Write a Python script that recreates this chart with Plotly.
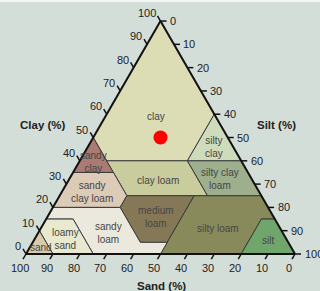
import math
import plotly.graph_objects as go

# ---- data: soil texture classes as (clay %, sand %, silt %) vertices ----
clay_poly = [(100, 0, 0), (50, 50, 0), (40, 50, 10), (40, 20, 40), (60, 0, 40)]
silty_clay_poly = [(60, 0, 40), (40, 20, 40), (40, 0, 60)]
sandy_clay_poly = [(50, 50, 0), (35, 50, 15), (35, 65, 0)]
clay_loam_poly = [(40, 50, 10), (40, 20, 40), (25, 20, 55), (25, 50, 25)]
silty_clay_loam_poly = [(40, 20, 40), (40, 0, 60), (25, 0, 75), (25, 20, 55)]
sandy_clay_loam_poly = [(35, 65, 0), (35, 50, 15), (25, 50, 25), (20, 55, 25), (20, 80, 0)]
medium_loam_poly = [(25, 50, 25), (25, 25, 50), (5, 45, 50), (5, 55, 40), (20, 55, 25)]
silty_loam_poly = [(25, 25, 50), (25, 0, 75), (15, 0, 85), (15, 5, 80), (0, 20, 80), (0, 50, 50)]
silt_poly = [(15, 5, 80), (15, 0, 85), (0, 0, 100), (0, 20, 80)]
sandy_loam_poly = [(20, 80, 0), (20, 55, 25), (5, 55, 40), (5, 45, 50), (0, 50, 50),
                   (0, 75, 25), (15, 75, 10), (15, 85, 0)]
loamy_sand_poly = [(15, 85, 0), (15, 75, 10), (0, 75, 25), (0, 90, 10), (10, 90, 0)]
sand_poly = [(10, 90, 0), (0, 100, 0), (0, 90, 10)]

region_polys = [clay_poly, silty_clay_poly, sandy_clay_poly, clay_loam_poly,
                silty_clay_loam_poly, sandy_clay_loam_poly, medium_loam_poly,
                silty_loam_poly, silt_poly, sandy_loam_poly, loamy_sand_poly, sand_poly]
region_colors = ["#dcdcb5", "#cfdcbb", "#a97b73", "#c9cc9c", "#9daf8d", "#dccbb7",
                 "#857857", "#898a5b", "#70a66b", "#ebe9dd", "#e9e9cf", "#d9cba9"]

label_text = ["clay", "silty<br>clay", "sandy<br>clay", "clay loam", "silty clay<br>loam",
              "sandy<br>clay loam", "medium<br>loam", "silty loam", "silt", "sandy<br>loam",
              "loamy<br>sand", "sand"]
label_clay = [59, 46, 39.5, 31.6, 32, 26.8, 15.7, 11, 6, 8.9, 6.3, 2.7]
label_sand = [22, 7, 55, 35.2, 11.7, 61.9, 44, 23.1, 7.1, 64.7, 82.3, 93.1]
label_silt = [19, 47, 5.5, 33.2, 56.3, 11.3, 40.3, 65.9, 86.9, 26.4, 11.4, 4.2]

point_clay = [50]
point_sand = [25]
point_silt = [25]

tick_values = [0, 10, 20, 30, 40, 50, 60, 70, 80, 90, 100]

# ---- layout constants (pixels) ----
W, H = 320, 291
TRI_L, TRI_R, TRI_BOTTOM = 26, 295, 254          # triangle base in pixels
PX = (TRI_R - TRI_L) / 100.0                      # pixels per percent along an edge
S3 = math.sqrt(3) / 2
TRI_TOP = TRI_BOTTOM - 100 * S3 * PX

BG = "#d4ded9"
FONT = "Liberation Sans, Arial, sans-serif"
INK = "#222222"
TICK_LEN = 6 / PX


def edge_xy(clay, sand, silt):
    """Ternary -> overlay cartesian units (percent along base)."""
    return silt + clay / 2.0, clay * S3


fig = go.Figure()
for poly, col in zip(region_polys, region_colors):
    pts = poly + [poly[0]]
    fig.add_trace(go.Scatterternary(
        a=[p[0] for p in pts], b=[p[1] for p in pts], c=[p[2] for p in pts],
        mode="lines", fill="toself", fillcolor=col,
        line=dict(color="#3a3a3a", width=1), hoverinfo="skip"))

fig.add_trace(go.Scatterternary(
    a=point_clay, b=point_sand, c=point_silt, mode="markers",
    marker=dict(size=14, color="#ff0000", line=dict(width=0)), hoverinfo="skip"))

annotations = []
# region labels (drawn unclipped, so they may overlap the outline as in the original)
for txt, c, s, si in zip(label_text, label_clay, label_sand, label_silt):
    lx, ly = edge_xy(c, s, si)
    annotations.append(dict(text=txt, x=lx, y=ly, xref="x", yref="y", showarrow=False,
                            xanchor="center", yanchor="middle",
                            font=dict(family=FONT, size=10, color="#454545")))

# ---- tick marks and tick labels on an overlay cartesian frame ----
tx, ty = [], []
for v in tick_values:
    # clay (left edge), ticks up-left
    x0, y0 = edge_xy(v, 100 - v, 0)
    tx += [x0, x0 - 0.5 * TICK_LEN, None]
    ty += [y0, y0 + S3 * TICK_LEN, None]
    annotations.append(dict(text=str(v), x=x0 - 3.0 / PX, y=y0 + 8.0 / PX, xref="x", yref="y",
                            xanchor="right", yanchor="middle", showarrow=False,
                            font=dict(family=FONT, size=11, color=INK)))
    # silt (right edge), ticks to the right
    x0, y0 = edge_xy(100 - v, 0, v)
    tx += [x0, x0 + TICK_LEN, None]
    ty += [y0, y0, None]
    annotations.append(dict(text=str(v), x=x0 + 7.5 / PX, y=y0, xref="x", yref="y",
                            xanchor="left", yanchor="middle", showarrow=False,
                            font=dict(family=FONT, size=11, color=INK)))
    # sand (bottom edge), ticks down-left
    x0, y0 = edge_xy(0, v, 100 - v)
    tx += [x0, x0 - 0.5 * TICK_LEN, None]
    ty += [y0, y0 - S3 * TICK_LEN, None]
    annotations.append(dict(text=str(v), x=x0 - 6.3 / PX, y=y0 - 13.7 / PX, xref="x", yref="y",
                            xanchor="center", yanchor="middle", showarrow=False,
                            font=dict(family=FONT, size=11, color=INK)))

fig.add_trace(go.Scatter(x=tx, y=ty, mode="lines", line=dict(color="#111111", width=1.5),
                         hoverinfo="skip", xaxis="x", yaxis="y"))

title_font = dict(family=FONT, size=11.5, color=INK)
annotations += [
    dict(text="<b>Clay (%)</b>", x=42.7 / W, y=1 - 125 / H, xref="paper", yref="paper",
         xanchor="center", yanchor="middle", showarrow=False, font=title_font),
    dict(text="<b>Silt (%)</b>", x=276.7 / W, y=1 - 125 / H, xref="paper", yref="paper",
         xanchor="center", yanchor="middle", showarrow=False, font=title_font),
    dict(text="<b>Sand (%)</b>", x=161 / W, y=1 - 285.5 / H, xref="paper", yref="paper",
         xanchor="center", yanchor="middle", showarrow=False, font=title_font),
]

hidden_ternary_axis = dict(
    ticks="", showticklabels=False, linecolor="#111111", linewidth=2,
    showgrid=False, min=0, title=dict(text=""))

fig.update_layout(
    width=W, height=H, margin=dict(l=0, r=0, t=0, b=0),
    paper_bgcolor=BG, plot_bgcolor="rgba(0,0,0,0)", showlegend=False,
    ternary=dict(
        sum=100, bgcolor=BG,
        domain=dict(x=[TRI_L / W, TRI_R / W], y=[(H - TRI_BOTTOM) / H, (H - TRI_TOP) / H]),
        aaxis=hidden_ternary_axis, baxis=hidden_ternary_axis, caxis=hidden_ternary_axis),
    xaxis=dict(visible=False, range=[-TRI_L / PX, (W - TRI_L) / PX], domain=[0, 1],
               fixedrange=True),
    yaxis=dict(visible=False, range=[-(H - TRI_BOTTOM) / PX, TRI_BOTTOM / PX], domain=[0, 1],
               fixedrange=True),
    annotations=annotations,
    shapes=[dict(type="rect", xref="paper", yref="paper", x0=0, x1=1, y0=1 - 2 / H, y1=1,
                 fillcolor="#f4f6f5", line=dict(width=0), layer="below")],
)

fig.write_html("out.html", config={"displayModeBar": False},
               post_script="document.body.style.margin='0';")
